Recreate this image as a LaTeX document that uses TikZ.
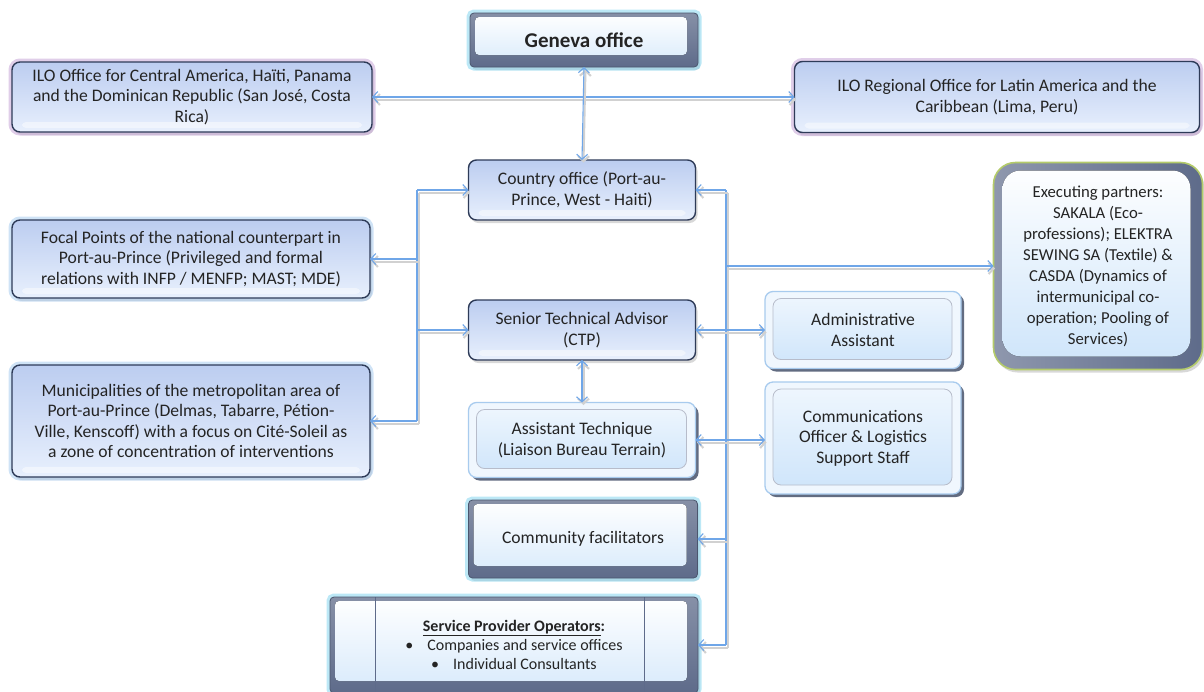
\documentclass[tikz,border=0pt]{standalone}
\usepackage{fontspec}
\setmainfont{Carlito}
\usetikzlibrary{arrows.meta,shadows,calc}

\definecolor{linkblue}{HTML}{6FA6E8}
\definecolor{navy}{HTML}{2E3B58}
\definecolor{slate}{HTML}{5E6B8A}
\definecolor{facetop}{HTML}{BCCDF0}
\definecolor{facebot}{HTML}{E8F0FD}
\definecolor{cyanglow}{HTML}{86D6F0}
\definecolor{violetglow}{HTML}{C7A6D8}
\definecolor{blueglow}{HTML}{A9CCF0}
\definecolor{greenglow}{HTML}{B4CB6A}
\definecolor{framebd}{HTML}{A8CBEE}
\definecolor{innertop}{HTML}{F0F7FE}
\definecolor{innerbot}{HTML}{CDE4FA}
\definecolor{txt}{HTML}{242424}

\tikzset{
  x=1pt, y=-1pt,
  every node/.style={font=\fontsize{17.6}{20.5}\selectfont, text=txt, align=center,
    inner sep=2pt, outer sep=0pt},
  glow/.style={preaction={draw=#1, line width=7pt, opacity=.55}},
  % rounded boxes with a dark rim and a soft blue face
  softbox/.style={rounded corners=8pt, draw=navy, line width=1.4pt,
    top color=facetop, bottom color=facebot,
    drop shadow={shadow xshift=2pt, shadow yshift=-3pt, opacity=.3},
    path picture={\fill[white,opacity=.45,rounded corners=4pt]
      ([xshift=10pt,yshift=4pt]path picture bounding box.south west) rectangle
      ([xshift=-10pt,yshift=10pt]path picture bounding box.south east);}},
  % bevelled slabs: slate rim around a light face
  bevel/.style={rounded corners=4pt, draw=slate!80!black, line width=.8pt,
    top color=slate!75, bottom color=slate,
    drop shadow={shadow xshift=2pt, shadow yshift=-3pt, opacity=.3},
    path picture={\fill[top color=white, bottom color=innerbot!80]
      ([xshift=5pt,yshift=-4pt]path picture bounding box.north west) rectangle
      ([xshift=-11pt,yshift=12pt]path picture bounding box.south east);}},
  % light frame holding an inner panel
  framebox/.style={rounded corners=8pt, draw=framebd, line width=1.3pt, fill=innertop,
    drop shadow={shadow xshift=3pt, shadow yshift=-3pt, opacity=.75, fill=navy},
    path picture={\draw[draw=slate!45, line width=.8pt, top color=innertop, bottom color=innerbot]
      ([xshift=8pt,yshift=-7pt]path picture bounding box.north west) rectangle
      ([xshift=-9pt,yshift=9pt]path picture bounding box.south east);}},
  % large rounded panel for the executing partners
  bigpanel/.style={rounded corners=22pt, draw=greenglow, line width=1.6pt,
    left color=slate!70, right color=slate,
    drop shadow={shadow xshift=2pt, shadow yshift=-3pt, opacity=.3},
    path picture={\fill[rounded corners=18pt, top color=white, bottom color=innerbot]
      ([xshift=9pt,yshift=-8pt]path picture bounding box.north west) rectangle
      ([xshift=-12pt,yshift=13pt]path picture bounding box.south east);}},
  >={Straight Barb[length=5pt,width=11pt]},
  conn/.style={draw=linkblue, line width=1.1pt,
    preaction={draw=black!18, line width=2pt, transform canvas={shift={(1.5pt,-2.5pt)}}}},
}

\begin{document}
\begin{tikzpicture}
\useasboundingbox (0,0) rectangle (1204,691);
\fill[white] (0,0) rectangle (1204,691);

% top level
\node[bevel, glow=cyanglow, minimum width=228pt, minimum height=54pt,
  font=\fontsize{21}{24}\selectfont\bfseries] (geneva) at (584,40) {Geneva office};
\node[softbox, glow=violetglow, minimum width=360pt, minimum height=70pt] (central) at (192,97)
  {ILO Office for Central America, Haïti, Panama\\and the Dominican Republic (San José, Costa\\Rica)};
\node[softbox, glow=violetglow, minimum width=405pt, minimum height=71pt] (regional) at (997,97)
  {ILO Regional Office for Latin America and the\\Caribbean (Lima, Peru)};

% central column
\node[softbox, minimum width=227pt, minimum height=60pt] (country) at (582,190)
  {Country office (Port-au-\\Prince, West - Haiti)};
\node[softbox, minimum width=227pt, minimum height=60pt] (sta) at (582,330)
  {Senior Technical Advisor\\(CTP)};
\node[framebox, minimum width=227pt, minimum height=75pt] (asst) at (582,440)
  {Assistant Technique\\(Liaison Bureau Terrain)};
\node[bevel, glow=cyanglow, minimum width=229pt, minimum height=78pt] (community) at (583,539)
  {Community facilitators};
\node[bevel, glow=cyanglow, minimum width=368pt, minimum height=96pt,
  path picture={\fill[top color=white, bottom color=innerbot!80]
      ([xshift=5pt,yshift=-4pt]path picture bounding box.north west) rectangle
      ([xshift=-11pt,yshift=12pt]path picture bounding box.south east);
    \draw[slate, line width=.8pt]
      ([xshift=45pt]path picture bounding box.north west) -- ([xshift=45pt]path picture bounding box.south west)
      ([xshift=-54pt]path picture bounding box.north east) -- ([xshift=-54pt]path picture bounding box.south east);},
  font=\fontsize{16}{19}\selectfont] (service) at (514,645)
  {\underline{\textbf{Service Provider Operators}}\textbf{:}\\
   \textbullet\hspace{14pt}Companies and service offices\\
   \textbullet\hspace{14pt}Individual Consultants};

% left column
\node[softbox, glow=blueglow, minimum width=358pt, minimum height=78pt] (focal) at (191,259)
  {Focal Points of the national counterpart in\\Port-au-Prince (Privileged and formal\\relations with INFP / MENFP; MAST; MDE)};
\node[softbox, glow=blueglow, minimum width=358pt, minimum height=112pt] (muni) at (191,421)
  {Municipalities of the metropolitan area of\\Port-au-Prince (Delmas, Tabarre, Pétion-\\Ville, Kenscoff) with a focus on Cité-Soleil as\\a zone of concentration of interventions};

% right column
\node[framebox, minimum width=196pt, minimum height=77pt] (admin) at (863,330)
  {Administrative\\Assistant};
\node[framebox, minimum width=196pt, minimum height=112pt] (comm) at (863,438)
  {Communications\\Officer \& Logistics\\Support Staff};
\node[bigpanel, minimum width=209pt, minimum height=207pt,
  font=\fontsize{16.7}{21}\selectfont] (exec) at (1098,266)
  {Executing partners:\\SAKALA (Eco-\\professions); ELEKTRA\\SEWING SA (Textile) \&\\CASDA (Dynamics of\\intermunicipal co-\\operation; Pooling of\\Services)};

% connectors
\coordinate (lbus) at (417,0);
\coordinate (rbus) at (726,0);

\draw[conn,<->] (central.east) -- (regional.west);
\draw[conn,<->] (geneva.south) -- (country.north);

\draw[conn] (lbus |- country.west) -- (lbus |- muni.east);
\draw[conn,->] (lbus |- country.west) -- (country.west);
\draw[conn,->] (lbus |- focal.east) -- (focal.east);
\draw[conn,->] (lbus |- sta.west) -- (sta.west);
\draw[conn,->] (lbus |- muni.east) -- (muni.east);

\draw[conn] (rbus |- country.east) -- (rbus |- service.east);
\draw[conn,->] (rbus |- country.east) -- (country.east);
\draw[conn,->] (rbus |- exec.west) -- (exec.west);
\draw[conn,->] (rbus |- community.east) -- (community.east);
\draw[conn,->] (rbus |- service.east) -- (service.east);

\draw[conn,<->] (sta.east) -- (admin.west |- sta.east);
\draw[conn,<->] (sta.south) -- (asst.north);
\draw[conn,<->] (asst.east) -- (comm.west |- asst.east);
\end{tikzpicture}
\end{document}
